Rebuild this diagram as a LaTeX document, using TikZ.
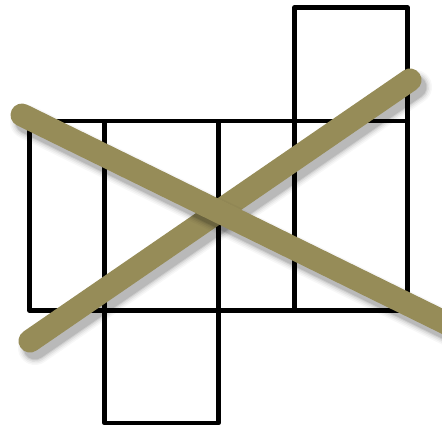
\documentclass[tikz,border=0pt]{standalone}
\usetikzlibrary{calc}
\definecolor{crossolive}{RGB}{150,140,88}

\tikzset{
  netline/.style={black, line width=4.5pt, line join=round},
  crossbar/.style={crossolive, line width=23pt, line cap=round},
  crossshade/.style={black, line cap=round}
}

\begin{document}
\begin{tikzpicture}[x=1pt, y=-1pt]
\useasboundingbox (0,0) rectangle (442,426);
% net of the box
\draw[netline] (29.5,121) rectangle (407.5,310.5);
\foreach \x in {104.5,218.5,294.5}{ \draw[netline] (\x,121) -- (\x,310.5); }
\draw[netline] (294.5,121) -- (294.5,7.5) -- (407.5,7.5) -- (407.5,121);
\draw[netline] (104.5,310.5) -- (104.5,423) -- (218.5,423) -- (218.5,310.5);
% the cross
\coordinate (upA) at (30,341);
\coordinate (upB) at (410,80);
\coordinate (downA) at (22,115);
\coordinate (downB) at (452,326);
\foreach \w/\o in {34/0.03,31/0.04,28/0.06,25/0.08,23/0.1}{
  \draw[crossshade, line width=\w pt, opacity=\o] ($(upA)+(5,7)$) -- ($(upB)+(5,7)$);
}
\draw[crossbar] (upA) -- (upB);
\foreach \w/\o in {34/0.03,31/0.04,28/0.06,25/0.08,23/0.1}{
  \draw[crossshade, line width=\w pt, opacity=\o] ($(downA)+(5,7)$) -- ($(downB)+(5,7)$);
}
\draw[crossbar] (downA) -- (downB);
\end{tikzpicture}
\end{document}
